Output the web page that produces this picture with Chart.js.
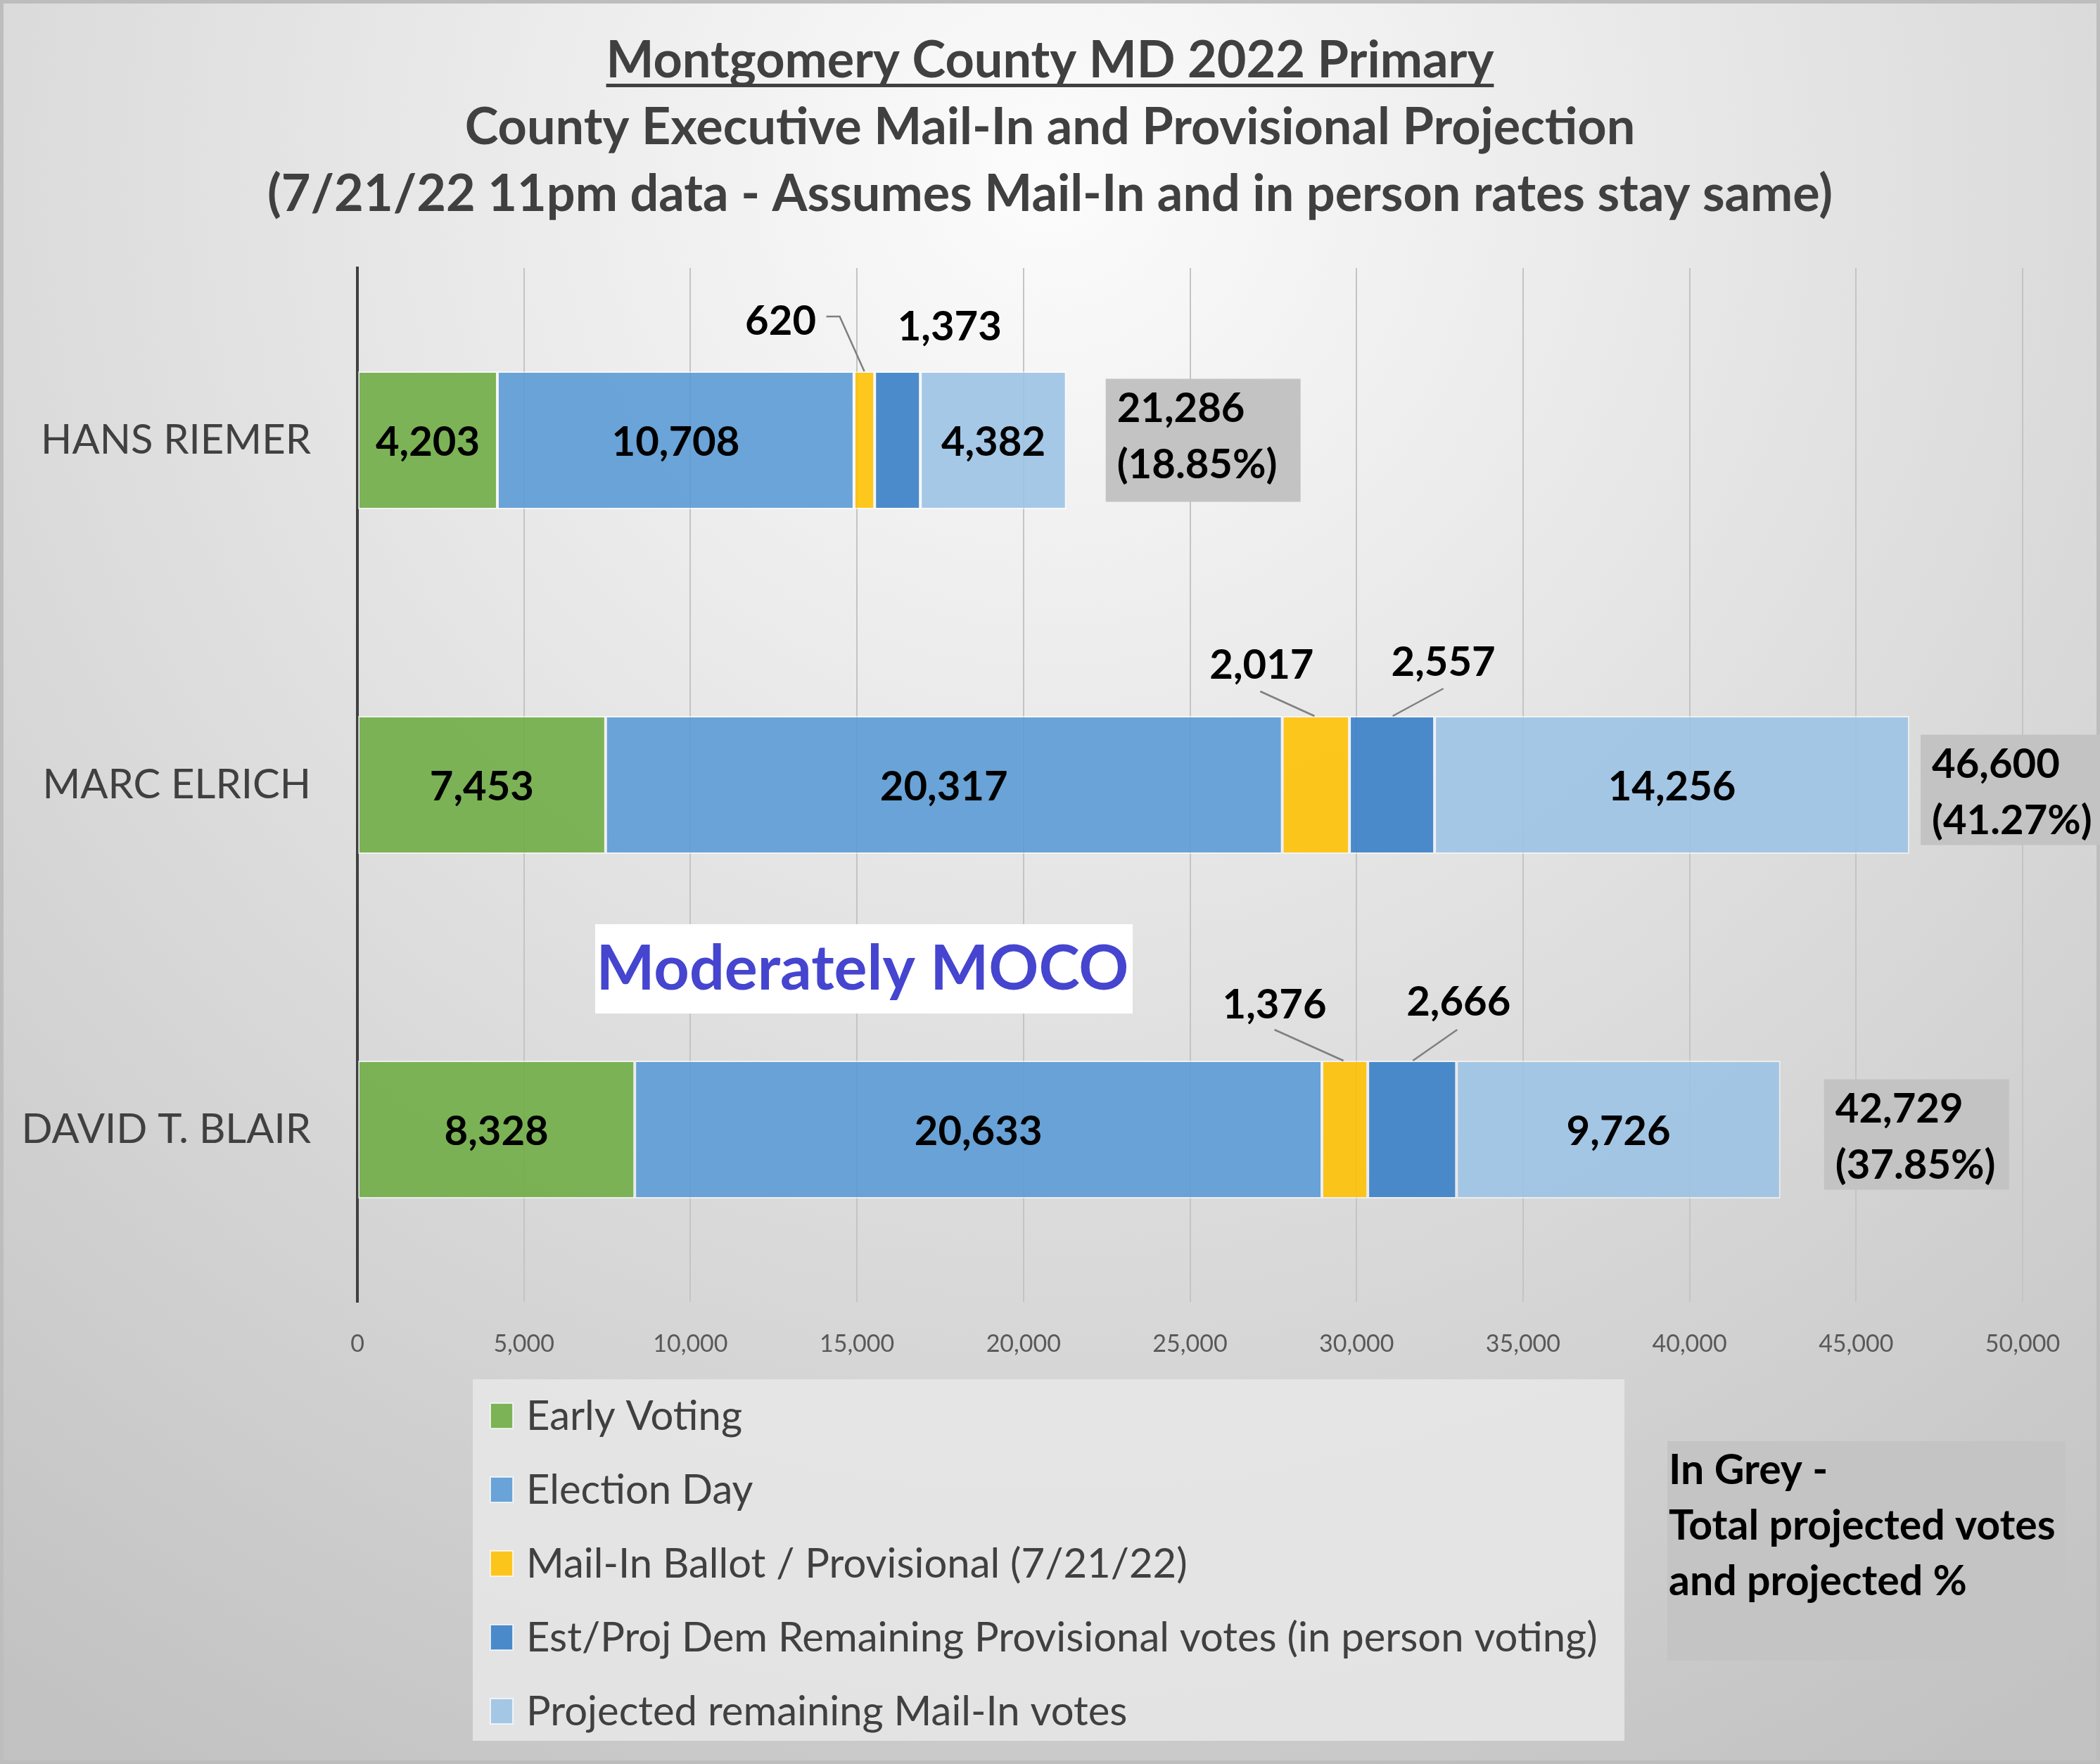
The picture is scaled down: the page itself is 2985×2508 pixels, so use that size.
<!DOCTYPE html>
<html><head><meta charset="utf-8">
<script src="https://cdn.jsdelivr.net/npm/chart.js@4.4.0/dist/chart.umd.min.js"></script>
<style>html,body{margin:0;padding:0;background:#fff;} #wrap{width:2985px;height:2508px;position:relative;}</style>
</head><body><div id="wrap"><canvas id="c" width="2985" height="2508"></canvas></div>
<script>
// ---------- data ----------
const categories = ['HANS RIEMER', 'MARC ELRICH', 'DAVID T. BLAIR'];
const seriesNames = ['Early Voting', 'Election Day', 'Mail-In Ballot / Provisional (7/21/22)',
  'Est/Proj Dem Remaining Provisional votes (in person voting)', 'Projected remaining Mail-In votes'];
const earlyVoting = [4203, 7453, 8328];
const electionDay = [10708, 20317, 20633];
const mailInProvisional = [620, 2017, 1376];
const estRemainingProvisional = [1373, 2557, 2666];
const projectedRemainingMailIn = [4382, 14256, 9726];
const totalProjected = [21286, 46600, 42729];
const projectedPercent = ['18.85%', '41.27%', '37.85%'];
const xTickValues = [0, 5000, 10000, 15000, 20000, 25000, 30000, 35000, 40000, 45000, 50000];
const titleLines = ['Montgomery County MD 2022 Primary',
  'County Executive Mail-In and Provisional Projection',
  '(7/21/22 11pm data - Assumes Mail-In and in person rates stay same)'];
const watermarkText = 'Moderately MOCO';
const noteLines = ['In Grey -', 'Total projected votes', 'and projected %'];

// ---------- style ----------
const W = 2985, H = 2508;
const FONT = 'Lato, "Open Sans", sans-serif';
const seriesColors = ['rgba(112,173,71,0.9)', 'rgba(91,155,213,0.9)', 'rgba(255,192,0,0.88)',
  'rgba(58,128,198,0.9)', 'rgba(157,195,230,0.9)'];
const insideLabelSeries = [0, 1, 4];
// callout label offsets from the top-centre of the segment
const calloutLayout = {
  2: [ {dx:-119, dy:-74, path:[[-54,-78],[-35,-78],[0,0]]},
       {dx:-77, dy:-75, path:[[-79,-35],[-2,0]]},
       {dx:-100, dy:-82, path:[[-100,-44],[-2,0]]} ],
  3: [ {dx:74, dy:-66, path:null},
       {dx:73, dy:-79, path:[[73,-39],[1,0]]},
       {dx:66, dy:-86, path:[[64,-44],[1,0]]} ]
};
const totalBoxLayout = [ {gap:56, w:277, h:175, dy:0}, {gap:16, w:280, h:157, dy:7}, {gap:62, w:263, h:157, dy:7} ];
const fmt = v => v.toLocaleString('en-US');

const decor = {
  id: 'decor',
  beforeDraw(chart) {
    const ctx = chart.ctx;
    ctx.save();
    const g = ctx.createRadialGradient(1490, 250, 0, 1490, 250, 2600);
    g.addColorStop(0, '#FCFCFC');
    g.addColorStop(1, '#C2C2C2');
    ctx.fillStyle = g;
    ctx.fillRect(0, 0, W, H);
    ctx.strokeStyle = '#BDBDBD';
    ctx.lineWidth = 5;
    ctx.strokeRect(2.5, 2.5, W - 5, H - 5);
    ctx.restore();
  },
  afterDatasetsDraw(chart) {
    const ctx = chart.ctx;
    ctx.save();
    // inside labels
    ctx.font = 'bold 58px ' + FONT;
    ctx.fillStyle = '#000';
    ctx.textAlign = 'center';
    ctx.textBaseline = 'middle';
    insideLabelSeries.forEach(di => {
      const meta = chart.getDatasetMeta(di);
      meta.data.forEach((el, i) => {
        ctx.fillText(fmt(chart.data.datasets[di].data[i]), (el.x + el.base) / 2, el.y + 3);
      });
    });
    // callouts
    Object.keys(calloutLayout).forEach(k => {
      const di = +k;
      const meta = chart.getDatasetMeta(di);
      meta.data.forEach((el, i) => {
        const L = calloutLayout[di][i];
        const ax = (el.x + el.base) / 2, ay = el.y - el.height / 2;
        if (L.path) {
          ctx.strokeStyle = '#7F7F7F';
          ctx.lineWidth = 2.5;
          ctx.beginPath();
          L.path.forEach((p, j) => j ? ctx.lineTo(ax + p[0], ay + p[1]) : ctx.moveTo(ax + p[0], ay + p[1]));
          ctx.stroke();
        }
        ctx.fillStyle = '#000';
        ctx.fillText(fmt(chart.data.datasets[di].data[i]), ax + L.dx, ay + L.dy + 3);
      });
    });
    // total boxes
    const last = chart.getDatasetMeta(4);
    last.data.forEach((el, i) => {
      const B = totalBoxLayout[i];
      const bx = el.x + B.gap, by = el.y + B.dy - B.h / 2;
      ctx.fillStyle = '#C3C3C3';
      ctx.fillRect(bx, by, B.w, B.h);
      ctx.fillStyle = '#000';
      ctx.textAlign = 'left';
      ctx.fillText(fmt(totalProjected[i]), bx + 16, by + 43);
      ctx.fillText('(' + projectedPercent[i] + ')', bx + 16, by + 123);
      ctx.textAlign = 'center';
    });
    // watermark
    ctx.fillStyle = '#FFFFFF';
    ctx.fillRect(846, 1314, 764, 127);
    ctx.fillStyle = '#4545CF';
    ctx.font = 'bold 88px ' + FONT;
    ctx.textBaseline = 'alphabetic';
    ctx.fillText(watermarkText, 1226, 1407);
    // title
    ctx.fillStyle = '#404040';
    ctx.font = 'bold 72px ' + FONT;
    titleLines.forEach((t, i) => {
      ctx.fillText(t, W / 2, 110 + i * 95);
      if (i === 0) {
        const w = ctx.measureText(t).width;
        ctx.fillRect(W / 2 - w / 2, 119, w, 5);
      }
    });
    // legend
    ctx.fillStyle = 'rgba(232,232,232,0.85)';
    ctx.fillRect(672, 1961, 1637, 514);
    ctx.font = '58px ' + FONT;
    ctx.textAlign = 'left';
    ctx.textBaseline = 'middle';
    chart.data.datasets.forEach((ds, i) => {
      const cy = 2012 + i * 105;
      ctx.fillStyle = ds.backgroundColor;
      ctx.fillRect(697, cy - 17, 32, 36);
      ctx.strokeStyle = 'rgba(255,255,255,0.7)';
      ctx.lineWidth = 2;
      ctx.strokeRect(697, cy - 17, 32, 36);
      ctx.fillStyle = '#404040';
      ctx.fillText(ds.label, 748, cy + 2);
    });
    // note box
    ctx.fillStyle = '#C4C4C4';
    ctx.fillRect(2370, 2049, 566, 312);
    ctx.fillStyle = '#000';
    ctx.font = 'bold 59px ' + FONT;
    ctx.textBaseline = 'alphabetic';
    noteLines.forEach((t, i) => ctx.fillText(t, 2372, 2110 + i * 79));
    ctx.restore();
  }
};

const datasetValues = [earlyVoting, electionDay, mailInProvisional, estRemainingProvisional, projectedRemainingMailIn];
new Chart(document.getElementById('c'), {
  type: 'bar',
  data: {
    labels: categories,
    datasets: datasetValues.map((d, i) => ({
      label: seriesNames[i], data: d,
      backgroundColor: seriesColors[i],
      borderColor: 'rgba(255,255,255,0.55)', borderWidth: 2, borderSkipped: false,
      barPercentage: 0.4, categoryPercentage: 1.0
    }))
  },
  options: {
    indexAxis: 'y',
    responsive: false, maintainAspectRatio: false, animation: false, devicePixelRatio: 1,
    layout: { padding: { top: 381, right: 110, bottom: 0, left: 0 } },
    plugins: { legend: { display: false }, tooltip: { enabled: false }, title: { display: false } },
    scales: {
      x: {
        stacked: true, min: 0, max: 50000,
        afterBuildTicks: s => { s.ticks = xTickValues.map(v => ({ value: v })); },
        afterFit: s => { s.height = 657; },
        grid: { color: '#C4C4C4', lineWidth: 2, drawTicks: false },
        border: { display: false },
        ticks: { callback: v => fmt(v), font: { family: FONT, size: 34 }, color: '#595959', padding: 40, maxRotation: 0, autoSkip: false }
      },
      y: {
        stacked: true,
        afterFit: s => { s.width = 508; },
        grid: { display: false, drawTicks: false },
        border: { display: true, color: '#404040', width: 4 },
        ticks: { font: { family: FONT, size: 58 }, color: '#404040', padding: 66 }
      }
    }
  },
  plugins: [decor]
});
</script>
</body></html>
